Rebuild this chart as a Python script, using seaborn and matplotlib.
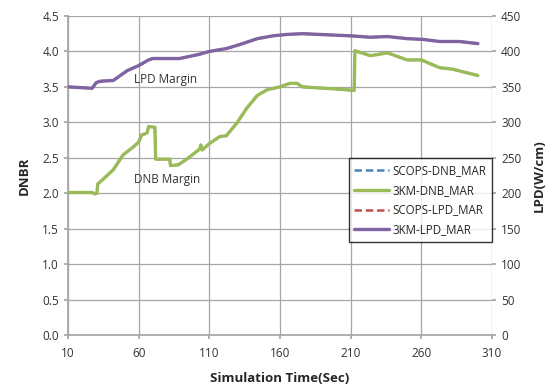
import matplotlib
matplotlib.use("Agg")
import matplotlib.pyplot as plt
import seaborn as sns
import pandas as pd
from matplotlib.lines import Line2D

# DNB margin (DNBR) vs simulation time
dnb_time = [10, 27, 29, 30.5, 31, 35, 42, 49, 56, 60, 62, 66, 67, 71.5, 72, 82, 82.5,
            88, 94, 103, 104, 105, 110, 117.5, 122, 129.5, 136.5, 144, 151, 160, 167,
            172, 176, 200, 212.5, 213, 224, 236, 250, 260, 273, 282, 300]
dnb_3km = [2.01, 2.01, 1.99, 2.0, 2.13, 2.2, 2.33, 2.54, 2.65, 2.72, 2.82, 2.85, 2.94,
           2.93, 2.48, 2.48, 2.39, 2.40, 2.48, 2.62, 2.68, 2.61, 2.70, 2.80, 2.81, 2.99,
           3.2, 3.38, 3.46, 3.50, 3.55, 3.55, 3.50, 3.47, 3.45, 4.01, 3.94, 3.98, 3.88,
           3.88, 3.77, 3.75, 3.66]
dnb_scops = list(dnb_3km)

# LPD margin (W/cm) vs simulation time
lpd_time = [10, 27, 30, 33, 42, 52, 60, 67, 70, 89, 103, 110, 122, 132, 144, 155,
            165, 176, 210, 224, 236, 250, 261, 273, 287, 300]
lpd_3km = [350, 348, 356, 358, 359, 373, 380, 388, 390, 390, 396, 400, 404, 410, 418,
           422, 424, 425, 422, 420, 421, 418, 417, 414, 414, 411]
lpd_scops = list(lpd_3km)

x_ticks = [10, 60, 110, 160, 210, 260, 310]
dnbr_ticks = [0.0, 0.5, 1.0, 1.5, 2.0, 2.5, 3.0, 3.5, 4.0, 4.5]
lpd_ticks = [0, 50, 100, 150, 200, 250, 300, 350, 400, 450]

sns.set_theme(style="white")
plt.rcParams["font.family"] = ["Open Sans", "DejaVu Sans"]

c_blue = "#4f81bd"
c_green = "#9bbb59"
c_red = "#c0504d"
c_purple = "#8064a2"

fig = plt.figure(figsize=(5.55, 3.87), dpi=100)
ax = fig.add_axes([0.1225, 0.1344, 0.7640, 0.8243])
ax2 = ax.twinx()

dnb_df = pd.DataFrame({"t": dnb_time, "scops": dnb_scops, "km": dnb_3km})
lpd_df = pd.DataFrame({"t": lpd_time, "scops": lpd_scops, "km": lpd_3km})

sns.lineplot(data=dnb_df, x="t", y="scops", ax=ax, color=c_blue, lw=1.8,
             linestyle=(0, (3, 1.5)), zorder=2)
sns.lineplot(data=dnb_df, x="t", y="km", ax=ax, color=c_green, lw=2.4, zorder=3)
sns.lineplot(data=lpd_df, x="t", y="scops", ax=ax2, color=c_red, lw=1.8,
             linestyle=(0, (3, 1.5)), zorder=2)
sns.lineplot(data=lpd_df, x="t", y="km", ax=ax2, color=c_purple, lw=2.4, zorder=3)

ax.set_xlim(10, 310)
ax.set_ylim(0, 4.5)
ax2.set_ylim(0, 450)
ax.set_xticks(x_ticks)
ax.set_yticks(dnbr_ticks)
ax.set_yticklabels([f"{v:.1f}" for v in dnbr_ticks])
ax2.set_yticks(lpd_ticks)

ax.grid(True, color="#a6a6a6", lw=0.9)
ax2.grid(False)
ax.set_axisbelow(True)
for a in (ax, ax2):
    for s in a.spines.values():
        s.set_visible(False)
ax.spines["left"].set_visible(True)
ax.spines["left"].set_color("#a6a6a6")
ax.spines["bottom"].set_visible(True)
ax.spines["bottom"].set_color("#a6a6a6")

ax.tick_params(axis="both", labelsize=8.5, colors="#333333", length=3,
               color="#a6a6a6", direction="out", left=True, bottom=True)
ax.tick_params(axis="x", pad=6)
ax2.tick_params(axis="y", labelsize=8.5, colors="#333333", length=3,
                color="#a6a6a6", right=True)

ax.set_xlabel("Simulation Time(Sec)", fontsize=9.5, fontweight="bold", labelpad=8)
ax.set_ylabel("DNBR", fontsize=9.5, fontweight="bold", labelpad=8)
ax2.set_ylabel("LPD(W/cm)", fontsize=9.5, fontweight="bold", labelpad=8)

ax.text(57, 3.55, "LPD Margin", fontsize=8.5, color="#333333")
ax.text(57, 2.15, "DNB Margin", fontsize=8.5, color="#333333")

handles = [
    Line2D([], [], color=c_blue, lw=1.8, linestyle=(0, (3, 1.5))),
    Line2D([], [], color=c_green, lw=2.4),
    Line2D([], [], color=c_red, lw=1.8, linestyle=(0, (3, 1.5))),
    Line2D([], [], color=c_purple, lw=2.4),
]
labels = ["SCOPS-DNB_MAR", "3KM-DNB_MAR", "SCOPS-LPD_MAR", "3KM-LPD_MAR"]
leg = ax2.legend(handles, labels, loc="upper right", bbox_to_anchor=(1.0, 0.555),
                 fontsize=8.3, frameon=True, fancybox=False, handlelength=3.0,
                 handletextpad=0.3, borderpad=0.5, labelspacing=0.6,
                 borderaxespad=0.0)
leg.get_frame().set_edgecolor("black")
leg.get_frame().set_linewidth(1.0)

fig.savefig("out.png", dpi=100)
